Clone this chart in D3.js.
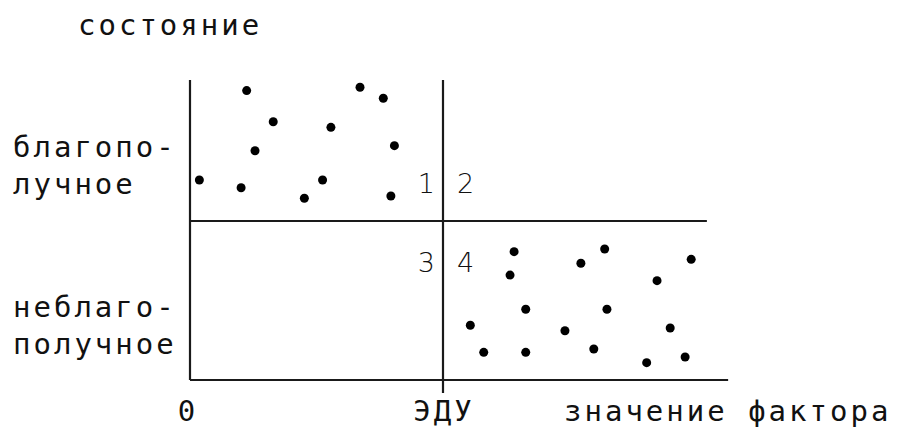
<!DOCTYPE html>
<html>
<head>
<meta charset="utf-8">
<script src="https://cdn.jsdelivr.net/npm/d3@7"></script>
<style>
  body { margin: 0; background: #fff; }
  .lbl { font-family: "DejaVu Sans Mono", monospace; font-size: 29px; letter-spacing: 3px; fill: #111; }
  .num { font-family: "DejaVu Sans", sans-serif; font-size: 27px; font-weight: 300; fill: #111; }
</style>
</head>
<body>
<div id="chart"></div>
<script>
// factor value relative to ЭДУ (ЭДУ = 1), state relative to the boundary (boundary = 1)
const goodX = [0.224, 0.672, 0.764, 0.329, 0.557, 0.257, 0.808, 0.037, 0.202, 0.524, 0.452, 0.794];
const goodY = [1.820, 1.841, 1.772, 1.624, 1.589, 1.442, 1.474, 1.258, 1.209, 1.258, 1.143, 1.157];
const badX = [1.281, 1.265, 1.545, 1.639, 1.981, 1.846, 1.327, 1.648, 1.108, 1.482, 1.898, 1.161, 1.327, 1.596, 1.805, 1.957];
const badY = [0.807, 0.660, 0.734, 0.824, 0.759, 0.625, 0.445, 0.445, 0.344, 0.310, 0.327, 0.174, 0.174, 0.195, 0.109, 0.145];
const quadrants = ["1", "2", "3", "4"];
const stateLabels = [["благопо-", "лучное"], ["неблаго-", "получное"]];
const xTickLabels = ["0", "ЭДУ"];
const xTitle = "значение фактора";
const yTitle = "состояние";

const width = 898, height = 439;
const x = d3.scaleLinear().domain([0, 1]).range([190, 443]);
const y = d3.scaleLinear().domain([0, 1]).range([380, 221]);
const xMax = 2.127, midMax = 2.043, yMax = 1.887;

const svg = d3.select("#chart").append("svg")
  .attr("width", width)
  .attr("height", height);

const line = (x1, y1, x2, y2) => svg.append("line")
  .attr("x1", x1).attr("y1", y1).attr("x2", x2).attr("y2", y2)
  .attr("stroke", "#1a1a1a").attr("stroke-width", 2.2);

// axes and dividing lines
line(x(0), y(0), x(0), y(yMax));
line(x(0), y(0), x(xMax), y(0));
line(x(0), y(1), x(midMax), y(1));
line(x(1), y(yMax), x(1), y(0) + 13);

// dots
const pts = goodX.map((v, i) => [v, goodY[i]]).concat(badX.map((v, i) => [v, badY[i]]));
svg.selectAll("circle")
  .data(pts)
  .enter()
  .append("circle")
  .attr("cx", d => x(d[0]))
  .attr("cy", d => y(d[1]))
  .attr("r", 4.5)
  .attr("fill", "#000");

// quadrant numbers
svg.selectAll("text.num")
  .data(quadrants)
  .enter()
  .append("text")
  .attr("class", "num")
  .attr("x", (d, i) => i % 2 === 0 ? x(1) - 8 : x(1) + 14)
  .attr("y", (d, i) => i < 2 ? 193 : 272)
  .attr("text-anchor", (d, i) => i % 2 === 0 ? "end" : "start")
  .text(d => d);

// state labels
stateLabels.forEach((lines, k) => {
  lines.forEach((t, j) => {
    svg.append("text")
      .attr("class", "lbl")
      .attr("x", 13)
      .attr("y", (k === 0 ? 157 : 317) + j * 37)
      .text(t);
  });
});

svg.append("text").attr("class", "lbl").attr("x", 78).attr("y", 35).text(yTitle);

svg.append("text").attr("class", "lbl").attr("x", x(0) - 2).attr("y", 421)
  .attr("text-anchor", "middle").text(xTickLabels[0]);
svg.append("text").attr("class", "lbl").attr("x", x(1) + 1).attr("y", 421)
  .attr("text-anchor", "middle").text(xTickLabels[1]);
svg.append("text").attr("class", "lbl").attr("x", 564).attr("y", 421).text(xTitle);
</script>
</body>
</html>
